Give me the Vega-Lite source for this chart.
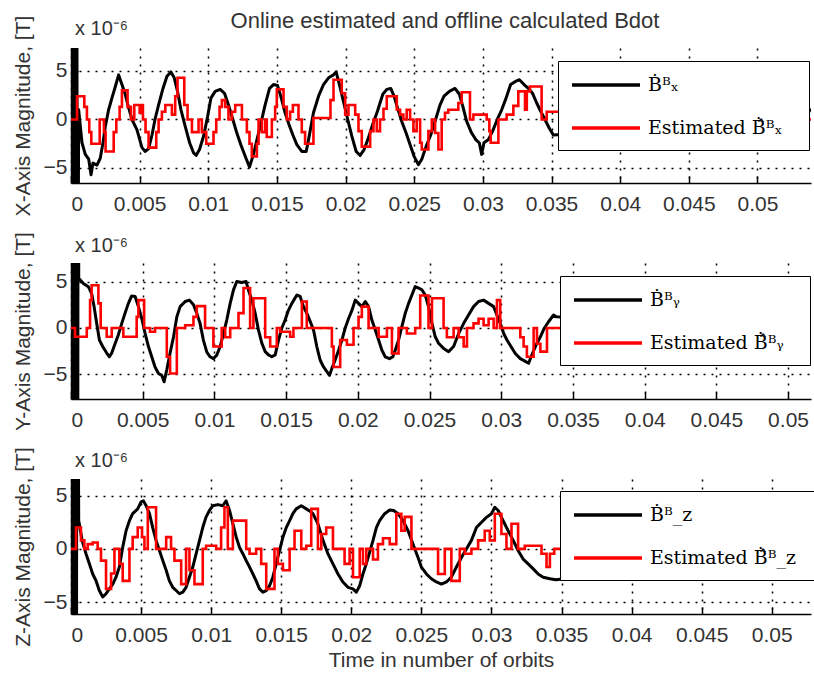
{
  "$schema": "https://vega.github.io/schema/vega-lite/v6.json",
  "background": "white",
  "padding": {"left": 12, "top": 10, "right": 0, "bottom": 0},
  "bounds": "flush",
  "spacing": 80,
  "title": {"text": "Online estimated and offline calculated Bdot", "frame": "group", "anchor": "middle", "offset": -18, "fontSize": 22, "font": "Liberation Sans", "fontWeight": "normal", "color": "#333"},
  "config": {
    "view": {"stroke": null},
    "font": "Liberation Sans",
    "axis": {
      "domainColor": "black", "domainWidth": 1.5,
      "tickColor": "black", "tickSize": -7, "tickWidth": 1.5,
      "labelFont": "Liberation Sans", "labelFontSize": 21, "labelColor": "#333",
      "titleFont": "Liberation Sans", "titleFontSize": 21, "titleFontWeight": "normal", "titleColor": "#333",
      "grid": true, "gridColor": "black", "gridDash": [2, 6], "gridWidth": 1.5, "gridOpacity": 1
    },
    "axisX": {"labelPadding": 17},
    "axisY": {"labelPadding": 11, "titlePadding": 10},
    "legend": {
      "orient": "none", "title": null, "symbolType": "M-1,0H5.8", "symbolSize": 400, "symbolStrokeWidth": 3.5,
      "labelFont": "DejaVu Serif", "labelFontSize": 19, "labelColor": "black", "labelOffset": 54, "labelLimit": 0,
      "padding": 12, "rowPadding": 21, "strokeColor": "black", "fillColor": "white", "cornerRadius": 0
    },
    "title": {"anchor": "start", "frame": "group", "offset": -24, "dx": 4, "fontSize": 20, "font": "Liberation Sans", "fontWeight": "normal", "color": "#333"}
  },
  "resolve": {"scale": {"color": "independent", "x": "independent", "y": "independent"}, "legend": {"color": "independent"}},
  "datasets": {
    "bx": [
      {"series": "offline", "orbits": 0, "uT": 0}, {"series": "offline", "orbits": 0.00002, "uT": 40}, {"series": "offline", "orbits": 0.00006, "uT": -40}, {"series": "offline", "orbits": 0.0001, "uT": 40}, {"series": "offline", "orbits": 0.00014, "uT": -40}, {"series": "offline", "orbits": 0.00018, "uT": 40}, {"series": "offline", "orbits": 0.00022, "uT": -40}, {"series": "offline", "orbits": 0.00026, "uT": 40}, {"series": "offline", "orbits": 0.0003, "uT": -40}, {"series": "offline", "orbits": 0.00034, "uT": 40}, {"series": "offline", "orbits": 0.00038, "uT": -40}, {"series": "offline", "orbits": 0.00042, "uT": 40}, {"series": "offline", "orbits": 0.00046, "uT": -40},
      {"series": "offline", "orbits": 0.00056, "uT": 1.0}, {"series": "offline", "orbits": 0.0008, "uT": -2.4}, {"series": "offline", "orbits": 0.00104, "uT": -3.6}, {"series": "offline", "orbits": 0.00129, "uT": -4.1}, {"series": "offline", "orbits": 0.00146, "uT": -5.7}, {"series": "offline", "orbits": 0.0016, "uT": -4.5}, {"series": "offline", "orbits": 0.00189, "uT": -4.7}, {"series": "offline", "orbits": 0.00213, "uT": -4.0}, {"series": "offline", "orbits": 0.00233, "uT": -2.4}, {"series": "offline", "orbits": 0.0025, "uT": -0.7}, {"series": "offline", "orbits": 0.00274, "uT": 1.0}, {"series": "offline", "orbits": 0.00298, "uT": 2.2}, {"series": "offline", "orbits": 0.00323, "uT": 3.4}, {"series": "offline", "orbits": 0.00347, "uT": 4.6}, {"series": "offline", "orbits": 0.00371, "uT": 3.6}, {"series": "offline", "orbits": 0.00395, "uT": 2.6}, {"series": "offline", "orbits": 0.0042, "uT": 1.2}, {"series": "offline", "orbits": 0.00444, "uT": 0.0}, {"series": "offline", "orbits": 0.0048, "uT": -1.05}, {"series": "offline", "orbits": 0.00517, "uT": -2.9}, {"series": "offline", "orbits": 0.00541, "uT": -3.3}, {"series": "offline", "orbits": 0.00565, "uT": -3.0}, {"series": "offline", "orbits": 0.0059, "uT": -1.6}, {"series": "offline", "orbits": 0.00614, "uT": 0.15}, {"series": "offline", "orbits": 0.00638, "uT": 1.5}, {"series": "offline", "orbits": 0.0067, "uT": 3.2}, {"series": "offline", "orbits": 0.00699, "uT": 4.45}, {"series": "offline", "orbits": 0.00728, "uT": 4.9}, {"series": "offline", "orbits": 0.00752, "uT": 4.3}, {"series": "offline", "orbits": 0.00776, "uT": 2.9}, {"series": "offline", "orbits": 0.00801, "uT": 1.0}, {"series": "offline", "orbits": 0.00832, "uT": -0.7}, {"series": "offline", "orbits": 0.00864, "uT": -2.4}, {"series": "offline", "orbits": 0.00893, "uT": -3.45}, {"series": "offline", "orbits": 0.00912, "uT": -3.7}, {"series": "offline", "orbits": 0.00936, "uT": -3.1}, {"series": "offline", "orbits": 0.00966, "uT": -1.7}, {"series": "offline", "orbits": 0.00995, "uT": 0.3}, {"series": "offline", "orbits": 0.01019, "uT": 2.2}, {"series": "offline", "orbits": 0.0105, "uT": 2.9}, {"series": "offline", "orbits": 0.01087, "uT": 3.1}, {"series": "offline", "orbits": 0.01118, "uT": 2.7}, {"series": "offline", "orbits": 0.01147, "uT": 1.5}, {"series": "offline", "orbits": 0.01179, "uT": 0.0}, {"series": "offline", "orbits": 0.01208, "uT": -1.4}, {"series": "offline", "orbits": 0.01237, "uT": -2.6}, {"series": "offline", "orbits": 0.01269, "uT": -3.8}, {"series": "offline", "orbits": 0.013, "uT": -4.9}, {"series": "offline", "orbits": 0.01329, "uT": -3.6}, {"series": "offline", "orbits": 0.01354, "uT": -2.1}, {"series": "offline", "orbits": 0.01383, "uT": -0.4}, {"series": "offline", "orbits": 0.01414, "uT": 1.5}, {"series": "offline", "orbits": 0.01446, "uT": 3.2}, {"series": "offline", "orbits": 0.01475, "uT": 3.6}, {"series": "offline", "orbits": 0.01504, "uT": 3.5}, {"series": "offline", "orbits": 0.01528, "uT": 2.4}, {"series": "offline", "orbits": 0.01557, "uT": 0.8}, {"series": "offline", "orbits": 0.01587, "uT": -0.5}, {"series": "offline", "orbits": 0.01616, "uT": -1.6}, {"series": "offline", "orbits": 0.01645, "uT": -2.6}, {"series": "offline", "orbits": 0.01681, "uT": -3.3}, {"series": "offline", "orbits": 0.01713, "uT": -3.3}, {"series": "offline", "orbits": 0.0173, "uT": -2.1}, {"series": "offline", "orbits": 0.01766, "uT": 0.7}, {"series": "offline", "orbits": 0.01803, "uT": 2.4}, {"series": "offline", "orbits": 0.01839, "uT": 3.6}, {"series": "offline", "orbits": 0.01876, "uT": 4.3}, {"series": "offline", "orbits": 0.01912, "uT": 4.6}, {"series": "offline", "orbits": 0.01931, "uT": 4.9}, {"series": "offline", "orbits": 0.01955, "uT": 3.6}, {"series": "offline", "orbits": 0.01984, "uT": 1.9}, {"series": "offline", "orbits": 0.02013, "uT": 0.15}, {"series": "offline", "orbits": 0.02045, "uT": -1.7}, {"series": "offline", "orbits": 0.02077, "uT": -3.3}, {"series": "offline", "orbits": 0.02106, "uT": -3.7}, {"series": "offline", "orbits": 0.02135, "uT": -3.1}, {"series": "offline", "orbits": 0.02166, "uT": -1.9}, {"series": "offline", "orbits": 0.02198, "uT": -0.5}, {"series": "offline", "orbits": 0.02232, "uT": 0.85}, {"series": "offline", "orbits": 0.02271, "uT": 2.6}, {"series": "offline", "orbits": 0.023, "uT": 3.1}, {"series": "offline", "orbits": 0.02329, "uT": 3.2}, {"series": "offline", "orbits": 0.02353, "uT": 2.4}, {"series": "offline", "orbits": 0.02378, "uT": 1.2}, {"series": "offline", "orbits": 0.02409, "uT": -0.2}, {"series": "offline", "orbits": 0.02441, "uT": -1.4}, {"series": "offline", "orbits": 0.0247, "uT": -2.6}, {"series": "offline", "orbits": 0.02499, "uT": -3.8}, {"series": "offline", "orbits": 0.0253, "uT": -4.65}, {"series": "offline", "orbits": 0.02555, "uT": -4.1}, {"series": "offline", "orbits": 0.02586, "uT": -2.8}, {"series": "offline", "orbits": 0.0262, "uT": -1.6}, {"series": "offline", "orbits": 0.02659, "uT": 0.15}, {"series": "offline", "orbits": 0.02688, "uT": 1.5}, {"series": "offline", "orbits": 0.02717, "uT": 2.4}, {"series": "offline", "orbits": 0.02756, "uT": 2.9}, {"series": "offline", "orbits": 0.02797, "uT": 3.2}, {"series": "offline", "orbits": 0.02829, "uT": 2.6}, {"series": "offline", "orbits": 0.02853, "uT": 1.4}, {"series": "offline", "orbits": 0.02882, "uT": -0.2}, {"series": "offline", "orbits": 0.02918, "uT": -1.4}, {"series": "offline", "orbits": 0.0295, "uT": -2.1}, {"series": "offline", "orbits": 0.02974, "uT": -2.4}, {"series": "offline", "orbits": 0.02991, "uT": -3.6}, {"series": "offline", "orbits": 0.03008, "uT": -2.4}, {"series": "offline", "orbits": 0.03039, "uT": -2.1}, {"series": "offline", "orbits": 0.03071, "uT": -1.2}, {"series": "offline", "orbits": 0.03105, "uT": 0.0}, {"series": "offline", "orbits": 0.03137, "uT": 1.0}, {"series": "offline", "orbits": 0.03169, "uT": 2.2}, {"series": "offline", "orbits": 0.03202, "uT": 3.6}, {"series": "offline", "orbits": 0.03234, "uT": 3.9}, {"series": "offline", "orbits": 0.03266, "uT": 4.1}, {"series": "offline", "orbits": 0.033, "uT": 3.6}, {"series": "offline", "orbits": 0.03331, "uT": 3.2}, {"series": "offline", "orbits": 0.03362, "uT": 2.7}, {"series": "offline", "orbits": 0.03392, "uT": 1.7}, {"series": "offline", "orbits": 0.03421, "uT": 0.85}, {"series": "offline", "orbits": 0.03452, "uT": 0.0}, {"series": "offline", "orbits": 0.03484, "uT": -0.9}, {"series": "offline", "orbits": 0.03513, "uT": -1.6}, {"series": "offline", "orbits": 0.0533, "uT": 0.0}, {"series": "offline", "orbits": 0.0539, "uT": 1.1},
      {"series": "estimated", "orbits": 0, "uT": 0}, {"series": "estimated", "orbits": 0.00044, "uT": 2.4}, {"series": "estimated", "orbits": 0.00097, "uT": 1.3}, {"series": "estimated", "orbits": 0.00116, "uT": 0}, {"series": "estimated", "orbits": 0.00133, "uT": -1.3}, {"series": "estimated", "orbits": 0.00148, "uT": -2.5}, {"series": "estimated", "orbits": 0.00209, "uT": 0}, {"series": "estimated", "orbits": 0.0024, "uT": -1.3}, {"series": "estimated", "orbits": 0.00252, "uT": -3.3}, {"series": "estimated", "orbits": 0.00311, "uT": -1.3}, {"series": "estimated", "orbits": 0.0033, "uT": 0}, {"series": "estimated", "orbits": 0.00354, "uT": 1.3}, {"series": "estimated", "orbits": 0.00371, "uT": 3.0}, {"series": "estimated", "orbits": 0.00412, "uT": 1.3}, {"series": "estimated", "orbits": 0.00437, "uT": 0}, {"series": "estimated", "orbits": 0.00461, "uT": 1.5}, {"series": "estimated", "orbits": 0.005, "uT": 0.7}, {"series": "estimated", "orbits": 0.00512, "uT": 1.5}, {"series": "estimated", "orbits": 0.00524, "uT": 0}, {"series": "estimated", "orbits": 0.00543, "uT": -1.3}, {"series": "estimated", "orbits": 0.00565, "uT": -2.9}, {"series": "estimated", "orbits": 0.00621, "uT": -1.3}, {"series": "estimated", "orbits": 0.00638, "uT": 0}, {"series": "estimated", "orbits": 0.00662, "uT": 0.8}, {"series": "estimated", "orbits": 0.00687, "uT": 1.5}, {"series": "estimated", "orbits": 0.00735, "uT": 0.5}, {"series": "estimated", "orbits": 0.00759, "uT": 2.4}, {"series": "estimated", "orbits": 0.00776, "uT": 4.3}, {"series": "estimated", "orbits": 0.00825, "uT": 1.5}, {"series": "estimated", "orbits": 0.00849, "uT": 0}, {"series": "estimated", "orbits": 0.00881, "uT": -1.3}, {"series": "estimated", "orbits": 0.00929, "uT": 0}, {"series": "estimated", "orbits": 0.00953, "uT": -1.3}, {"series": "estimated", "orbits": 0.00985, "uT": -2.5}, {"series": "estimated", "orbits": 0.01038, "uT": -1.3}, {"series": "estimated", "orbits": 0.01058, "uT": 0}, {"series": "estimated", "orbits": 0.01082, "uT": 1.3}, {"series": "estimated", "orbits": 0.01099, "uT": 2.0}, {"series": "estimated", "orbits": 0.01123, "uT": 1.3}, {"series": "estimated", "orbits": 0.01147, "uT": 0}, {"series": "estimated", "orbits": 0.01172, "uT": 0.8}, {"series": "estimated", "orbits": 0.01196, "uT": 1.5}, {"series": "estimated", "orbits": 0.01245, "uT": 0}, {"series": "estimated", "orbits": 0.01281, "uT": -1.3}, {"series": "estimated", "orbits": 0.013, "uT": -2.5}, {"series": "estimated", "orbits": 0.01317, "uT": -3.8}, {"series": "estimated", "orbits": 0.01354, "uT": -2.5}, {"series": "estimated", "orbits": 0.01366, "uT": 0}, {"series": "estimated", "orbits": 0.0139, "uT": -1.3}, {"series": "estimated", "orbits": 0.01414, "uT": 0}, {"series": "estimated", "orbits": 0.01426, "uT": -1.8}, {"series": "estimated", "orbits": 0.01463, "uT": 0}, {"series": "estimated", "orbits": 0.01487, "uT": 1.3}, {"series": "estimated", "orbits": 0.01499, "uT": 3.1}, {"series": "estimated", "orbits": 0.01548, "uT": 1.3}, {"series": "estimated", "orbits": 0.01572, "uT": 0}, {"series": "estimated", "orbits": 0.01596, "uT": 0.8}, {"series": "estimated", "orbits": 0.01616, "uT": 1.5}, {"series": "estimated", "orbits": 0.01657, "uT": 0}, {"series": "estimated", "orbits": 0.01681, "uT": -1.3}, {"series": "estimated", "orbits": 0.01705, "uT": -2.5}, {"series": "estimated", "orbits": 0.01766, "uT": 0.15}, {"series": "estimated", "orbits": 0.0189, "uT": 2.0}, {"series": "estimated", "orbits": 0.01912, "uT": 4.1}, {"series": "estimated", "orbits": 0.01972, "uT": 2.7}, {"series": "estimated", "orbits": 0.01997, "uT": 0.5}, {"series": "estimated", "orbits": 0.02021, "uT": 1.5}, {"series": "estimated", "orbits": 0.0207, "uT": 0.5}, {"series": "estimated", "orbits": 0.02094, "uT": -1.2}, {"series": "estimated", "orbits": 0.02118, "uT": -2.8}, {"series": "estimated", "orbits": 0.02179, "uT": -1.2}, {"series": "estimated", "orbits": 0.02203, "uT": 0}, {"series": "estimated", "orbits": 0.02227, "uT": -1.2}, {"series": "estimated", "orbits": 0.02251, "uT": 0}, {"series": "estimated", "orbits": 0.02276, "uT": 1.1}, {"series": "estimated", "orbits": 0.023, "uT": 2.4}, {"series": "estimated", "orbits": 0.02373, "uT": 1.0}, {"series": "estimated", "orbits": 0.02397, "uT": 0.5}, {"series": "estimated", "orbits": 0.02421, "uT": 0}, {"series": "estimated", "orbits": 0.02445, "uT": 1.0}, {"series": "estimated", "orbits": 0.0247, "uT": 0}, {"series": "estimated", "orbits": 0.02494, "uT": -1.2}, {"series": "estimated", "orbits": 0.02518, "uT": 0}, {"series": "estimated", "orbits": 0.02543, "uT": -2.4}, {"series": "estimated", "orbits": 0.02555, "uT": -3.1}, {"series": "estimated", "orbits": 0.02603, "uT": -1.2}, {"series": "estimated", "orbits": 0.02628, "uT": 0}, {"series": "estimated", "orbits": 0.02652, "uT": -1.4}, {"series": "estimated", "orbits": 0.02676, "uT": -3.1}, {"series": "estimated", "orbits": 0.027, "uT": 0}, {"series": "estimated", "orbits": 0.02724, "uT": 0.7}, {"series": "estimated", "orbits": 0.02748, "uT": 1.0}, {"series": "estimated", "orbits": 0.02821, "uT": 1.7}, {"series": "estimated", "orbits": 0.02846, "uT": 2.8}, {"series": "estimated", "orbits": 0.02906, "uT": 0}, {"series": "estimated", "orbits": 0.02931, "uT": 0.5}, {"series": "estimated", "orbits": 0.03028, "uT": 0}, {"series": "estimated", "orbits": 0.03047, "uT": -1.2}, {"series": "estimated", "orbits": 0.03057, "uT": -2.4}, {"series": "estimated", "orbits": 0.03113, "uT": 0}, {"series": "estimated", "orbits": 0.03173, "uT": 0.5}, {"series": "estimated", "orbits": 0.03222, "uT": 1.4}, {"series": "estimated", "orbits": 0.03258, "uT": 2.9}, {"series": "estimated", "orbits": 0.03307, "uT": 1.0}, {"series": "estimated", "orbits": 0.0332, "uT": 2.9}, {"series": "estimated", "orbits": 0.03343, "uT": 3.4}, {"series": "estimated", "orbits": 0.03428, "uT": 0}, {"series": "estimated", "orbits": 0.03465, "uT": 0.8}, {"series": "estimated", "orbits": 0.0352, "uT": 0.8}, {"series": "estimated", "orbits": 0.0533, "uT": 0}, {"series": "estimated", "orbits": 0.0539, "uT": 0}
    ],
    "by": [
      {"series": "offline", "orbits": 0, "uT": 0}, {"series": "offline", "orbits": 0.00002, "uT": 40}, {"series": "offline", "orbits": 0.00006, "uT": -40}, {"series": "offline", "orbits": 0.0001, "uT": 40}, {"series": "offline", "orbits": 0.00014, "uT": -40}, {"series": "offline", "orbits": 0.00018, "uT": 40}, {"series": "offline", "orbits": 0.00022, "uT": -40}, {"series": "offline", "orbits": 0.00026, "uT": 40}, {"series": "offline", "orbits": 0.0003, "uT": -40}, {"series": "offline", "orbits": 0.00034, "uT": 40}, {"series": "offline", "orbits": 0.00038, "uT": -40}, {"series": "offline", "orbits": 0.00042, "uT": 40}, {"series": "offline", "orbits": 0.00046, "uT": -40}, {"series": "offline", "orbits": 0.0005, "uT": 40},
      {"series": "offline", "orbits": 0.00054, "uT": 5.35}, {"series": "offline", "orbits": 0.00086, "uT": 4.8}, {"series": "offline", "orbits": 0.00121, "uT": 4.45}, {"series": "offline", "orbits": 0.00144, "uT": 3.7}, {"series": "offline", "orbits": 0.00161, "uT": 2.3}, {"series": "offline", "orbits": 0.00179, "uT": 0.5}, {"series": "offline", "orbits": 0.00198, "uT": -1.3}, {"series": "offline", "orbits": 0.00221, "uT": -2.0}, {"series": "offline", "orbits": 0.00249, "uT": -2.7}, {"series": "offline", "orbits": 0.00268, "uT": -3.1}, {"series": "offline", "orbits": 0.00284, "uT": -2.7}, {"series": "offline", "orbits": 0.00307, "uT": -1.7}, {"series": "offline", "orbits": 0.0033, "uT": -0.75}, {"series": "offline", "orbits": 0.00354, "uT": 0.5}, {"series": "offline", "orbits": 0.00377, "uT": 1.6}, {"series": "offline", "orbits": 0.004, "uT": 2.65}, {"series": "offline", "orbits": 0.00423, "uT": 3.45}, {"series": "offline", "orbits": 0.00447, "uT": 3.4}, {"series": "offline", "orbits": 0.0047, "uT": 2.3}, {"series": "offline", "orbits": 0.00493, "uT": 1.05}, {"series": "offline", "orbits": 0.00517, "uT": -0.6}, {"series": "offline", "orbits": 0.0054, "uT": -2.0}, {"series": "offline", "orbits": 0.00563, "uT": -3.1}, {"series": "offline", "orbits": 0.00586, "uT": -4.2}, {"series": "offline", "orbits": 0.0061, "uT": -4.9}, {"series": "offline", "orbits": 0.00633, "uT": -5.1}, {"series": "offline", "orbits": 0.00649, "uT": -5.8}, {"series": "offline", "orbits": 0.00668, "uT": -4.5}, {"series": "offline", "orbits": 0.00691, "uT": -2.7}, {"series": "offline", "orbits": 0.00715, "uT": -0.95}, {"series": "offline", "orbits": 0.00738, "uT": 1.2}, {"series": "offline", "orbits": 0.00761, "uT": 2.3}, {"series": "offline", "orbits": 0.00796, "uT": 2.85}, {"series": "offline", "orbits": 0.00826, "uT": 3.0}, {"series": "offline", "orbits": 0.00854, "uT": 2.5}, {"series": "offline", "orbits": 0.00877, "uT": 1.6}, {"series": "offline", "orbits": 0.009, "uT": 0.5}, {"series": "offline", "orbits": 0.00923, "uT": -1.3}, {"series": "offline", "orbits": 0.00947, "uT": -2.6}, {"series": "offline", "orbits": 0.0097, "uT": -3.1}, {"series": "offline", "orbits": 0.00993, "uT": -3.3}, {"series": "offline", "orbits": 0.01017, "uT": -2.9}, {"series": "offline", "orbits": 0.0104, "uT": -2.0}, {"series": "offline", "orbits": 0.01063, "uT": -0.6}, {"series": "offline", "orbits": 0.01086, "uT": 0.85}, {"series": "offline", "orbits": 0.0111, "uT": 2.65}, {"series": "offline", "orbits": 0.01133, "uT": 4.1}, {"series": "offline", "orbits": 0.01156, "uT": 5.0}, {"series": "offline", "orbits": 0.01191, "uT": 4.9}, {"series": "offline", "orbits": 0.01221, "uT": 5.0}, {"series": "offline", "orbits": 0.01237, "uT": 4.1}, {"series": "offline", "orbits": 0.01261, "uT": 3.0}, {"series": "offline", "orbits": 0.01284, "uT": 1.6}, {"series": "offline", "orbits": 0.01307, "uT": -0.2}, {"series": "offline", "orbits": 0.01331, "uT": -1.65}, {"series": "offline", "orbits": 0.01354, "uT": -2.55}, {"series": "offline", "orbits": 0.01377, "uT": -2.9}, {"series": "offline", "orbits": 0.014, "uT": -3.1}, {"series": "offline", "orbits": 0.01424, "uT": -2.9}, {"series": "offline", "orbits": 0.01447, "uT": -1.3}, {"series": "offline", "orbits": 0.0147, "uT": 0.0}, {"series": "offline", "orbits": 0.01493, "uT": 0.85}, {"series": "offline", "orbits": 0.01516, "uT": 1.9}, {"series": "offline", "orbits": 0.0154, "uT": 2.65}, {"series": "offline", "orbits": 0.01575, "uT": 3.55}, {"series": "offline", "orbits": 0.01598, "uT": 3.4}, {"series": "offline", "orbits": 0.01621, "uT": 2.3}, {"series": "offline", "orbits": 0.0165, "uT": 1.4}, {"series": "offline", "orbits": 0.01691, "uT": -0.2}, {"series": "offline", "orbits": 0.01714, "uT": -2.0}, {"series": "offline", "orbits": 0.01737, "uT": -3.45}, {"series": "offline", "orbits": 0.01761, "uT": -4.2}, {"series": "offline", "orbits": 0.01784, "uT": -4.7}, {"series": "offline", "orbits": 0.01803, "uT": -5.1}, {"series": "offline", "orbits": 0.01819, "uT": -4.35}, {"series": "offline", "orbits": 0.01842, "uT": -3.45}, {"series": "offline", "orbits": 0.01866, "uT": -2.4}, {"series": "offline", "orbits": 0.01889, "uT": -1.3}, {"series": "offline", "orbits": 0.01912, "uT": 0.0}, {"series": "offline", "orbits": 0.01935, "uT": 1.0}, {"series": "offline", "orbits": 0.01959, "uT": 1.9}, {"series": "offline", "orbits": 0.01982, "uT": 3.0}, {"series": "offline", "orbits": 0.02005, "uT": 2.65}, {"series": "offline", "orbits": 0.02028, "uT": 2.3}, {"series": "offline", "orbits": 0.02052, "uT": 2.85}, {"series": "offline", "orbits": 0.02075, "uT": 2.3}, {"series": "offline", "orbits": 0.02098, "uT": 0.85}, {"series": "offline", "orbits": 0.02121, "uT": -0.2}, {"series": "offline", "orbits": 0.02145, "uT": -1.3}, {"series": "offline", "orbits": 0.02168, "uT": -2.4}, {"series": "offline", "orbits": 0.02191, "uT": -3.1}, {"series": "offline", "orbits": 0.02221, "uT": -3.3}, {"series": "offline", "orbits": 0.02244, "uT": -3.1}, {"series": "offline", "orbits": 0.02261, "uT": -2.4}, {"series": "offline", "orbits": 0.02284, "uT": -1.3}, {"series": "offline", "orbits": 0.02307, "uT": 0.15}, {"series": "offline", "orbits": 0.02331, "uT": 1.6}, {"series": "offline", "orbits": 0.02354, "uT": 2.65}, {"series": "offline", "orbits": 0.02377, "uT": 3.55}, {"series": "offline", "orbits": 0.024, "uT": 4.45}, {"series": "offline", "orbits": 0.02424, "uT": 4.3}, {"series": "offline", "orbits": 0.02447, "uT": 4.1}, {"series": "offline", "orbits": 0.0247, "uT": 3.55}, {"series": "offline", "orbits": 0.02493, "uT": 2.3}, {"series": "offline", "orbits": 0.02517, "uT": 0.5}, {"series": "offline", "orbits": 0.0254, "uT": -0.95}, {"series": "offline", "orbits": 0.02563, "uT": -1.65}, {"series": "offline", "orbits": 0.02598, "uT": -2.2}, {"series": "offline", "orbits": 0.02633, "uT": -2.55}, {"series": "offline", "orbits": 0.02668, "uT": -2.0}, {"series": "offline", "orbits": 0.02703, "uT": -0.6}, {"series": "offline", "orbits": 0.02738, "uT": 0.5}, {"series": "offline", "orbits": 0.02772, "uT": 1.4}, {"series": "offline", "orbits": 0.02807, "uT": 2.3}, {"series": "offline", "orbits": 0.02842, "uT": 2.85}, {"series": "offline", "orbits": 0.02877, "uT": 3.0}, {"series": "offline", "orbits": 0.02912, "uT": 2.65}, {"series": "offline", "orbits": 0.02947, "uT": 2.3}, {"series": "offline", "orbits": 0.0297, "uT": 1.4}, {"series": "offline", "orbits": 0.02993, "uT": 0.5}, {"series": "offline", "orbits": 0.03017, "uT": -0.6}, {"series": "offline", "orbits": 0.0304, "uT": -1.3}, {"series": "offline", "orbits": 0.03068, "uT": -2.0}, {"series": "offline", "orbits": 0.03098, "uT": -2.75}, {"series": "offline", "orbits": 0.03133, "uT": -3.3}, {"series": "offline", "orbits": 0.03168, "uT": -3.6}, {"series": "offline", "orbits": 0.03191, "uT": -3.8}, {"series": "offline", "orbits": 0.03208, "uT": -3.1}, {"series": "offline", "orbits": 0.03238, "uT": -2.0}, {"series": "offline", "orbits": 0.03273, "uT": -0.95}, {"series": "offline", "orbits": 0.03301, "uT": 0.0}, {"series": "offline", "orbits": 0.03331, "uT": 0.7}, {"series": "offline", "orbits": 0.03365, "uT": 1.4}, {"series": "offline", "orbits": 0.03384, "uT": 1.2}, {"series": "offline", "orbits": 0.0512, "uT": 0.3}, {"series": "offline", "orbits": 0.0517, "uT": -2.0},
      {"series": "estimated", "orbits": 0, "uT": 0}, {"series": "estimated", "orbits": 0.00028, "uT": -0.95}, {"series": "estimated", "orbits": 0.0011, "uT": 0}, {"series": "estimated", "orbits": 0.00133, "uT": 3.0}, {"series": "estimated", "orbits": 0.00144, "uT": 4.6}, {"series": "estimated", "orbits": 0.00191, "uT": 2.65}, {"series": "estimated", "orbits": 0.00207, "uT": 0}, {"series": "estimated", "orbits": 0.00249, "uT": -0.95}, {"series": "estimated", "orbits": 0.00284, "uT": 0}, {"series": "estimated", "orbits": 0.00365, "uT": -0.95}, {"series": "estimated", "orbits": 0.00458, "uT": 1.2}, {"series": "estimated", "orbits": 0.0047, "uT": 3.0}, {"series": "estimated", "orbits": 0.0051, "uT": 0}, {"series": "estimated", "orbits": 0.00551, "uT": -0.4}, {"series": "estimated", "orbits": 0.00586, "uT": 0}, {"series": "estimated", "orbits": 0.00668, "uT": -3.1}, {"series": "estimated", "orbits": 0.00691, "uT": -4.9}, {"series": "estimated", "orbits": 0.00738, "uT": 0}, {"series": "estimated", "orbits": 0.00796, "uT": 0.3}, {"series": "estimated", "orbits": 0.00854, "uT": 1.2}, {"series": "estimated", "orbits": 0.00877, "uT": 2.35}, {"series": "estimated", "orbits": 0.00935, "uT": 0}, {"series": "estimated", "orbits": 0.00993, "uT": -2.0}, {"series": "estimated", "orbits": 0.01051, "uT": 0}, {"series": "estimated", "orbits": 0.01075, "uT": -1.0}, {"series": "estimated", "orbits": 0.0111, "uT": 0}, {"series": "estimated", "orbits": 0.01168, "uT": 1.6}, {"series": "estimated", "orbits": 0.01203, "uT": 4.3}, {"series": "estimated", "orbits": 0.01249, "uT": 0}, {"series": "estimated", "orbits": 0.01272, "uT": 3.2}, {"series": "estimated", "orbits": 0.01354, "uT": -1.0}, {"series": "estimated", "orbits": 0.01389, "uT": -2.0}, {"series": "estimated", "orbits": 0.01435, "uT": 0}, {"series": "estimated", "orbits": 0.01458, "uT": -0.4}, {"series": "estimated", "orbits": 0.01528, "uT": -0.95}, {"series": "estimated", "orbits": 0.01551, "uT": 0}, {"series": "estimated", "orbits": 0.0161, "uT": 2.85}, {"series": "estimated", "orbits": 0.01644, "uT": 0}, {"series": "estimated", "orbits": 0.01819, "uT": -2.0}, {"series": "estimated", "orbits": 0.01831, "uT": -4.2}, {"series": "estimated", "orbits": 0.01877, "uT": -1.3}, {"series": "estimated", "orbits": 0.01924, "uT": -1.8}, {"series": "estimated", "orbits": 0.0197, "uT": 0}, {"series": "estimated", "orbits": 0.02005, "uT": 1.2}, {"series": "estimated", "orbits": 0.02028, "uT": 2.3}, {"series": "estimated", "orbits": 0.02075, "uT": 0}, {"series": "estimated", "orbits": 0.02145, "uT": -0.95}, {"series": "estimated", "orbits": 0.02203, "uT": 0}, {"series": "estimated", "orbits": 0.02238, "uT": -2.75}, {"series": "estimated", "orbits": 0.02284, "uT": 0}, {"series": "estimated", "orbits": 0.02342, "uT": -0.6}, {"series": "estimated", "orbits": 0.024, "uT": 0}, {"series": "estimated", "orbits": 0.02435, "uT": 3.5}, {"series": "estimated", "orbits": 0.02493, "uT": 0}, {"series": "estimated", "orbits": 0.02517, "uT": 3.2}, {"series": "estimated", "orbits": 0.02598, "uT": 0}, {"series": "estimated", "orbits": 0.02621, "uT": -1.0}, {"series": "estimated", "orbits": 0.02668, "uT": 0}, {"series": "estimated", "orbits": 0.02703, "uT": -1.0}, {"series": "estimated", "orbits": 0.02738, "uT": -2.0}, {"series": "estimated", "orbits": 0.02761, "uT": 0}, {"series": "estimated", "orbits": 0.02807, "uT": 0.5}, {"series": "estimated", "orbits": 0.02842, "uT": 1.0}, {"series": "estimated", "orbits": 0.02877, "uT": 0.3}, {"series": "estimated", "orbits": 0.02912, "uT": 1.0}, {"series": "estimated", "orbits": 0.02947, "uT": 0}, {"series": "estimated", "orbits": 0.0297, "uT": 3.0}, {"series": "estimated", "orbits": 0.02993, "uT": 0}, {"series": "estimated", "orbits": 0.03133, "uT": -1.0}, {"series": "estimated", "orbits": 0.03156, "uT": -2.0}, {"series": "estimated", "orbits": 0.03179, "uT": -3.1}, {"series": "estimated", "orbits": 0.03226, "uT": 0}, {"series": "estimated", "orbits": 0.03249, "uT": -1.7}, {"series": "estimated", "orbits": 0.03273, "uT": -2.55}, {"series": "estimated", "orbits": 0.03319, "uT": 0}, {"series": "estimated", "orbits": 0.0339, "uT": 0}, {"series": "estimated", "orbits": 0.0508, "uT": 0}, {"series": "estimated", "orbits": 0.0513, "uT": -0.8}, {"series": "estimated", "orbits": 0.0517, "uT": -0.8}
    ],
    "bz": [
      {"series": "offline", "orbits": 0, "uT": 0}, {"series": "offline", "orbits": 0.00002, "uT": 40}, {"series": "offline", "orbits": 0.00006, "uT": -40}, {"series": "offline", "orbits": 0.0001, "uT": 40}, {"series": "offline", "orbits": 0.00014, "uT": -40}, {"series": "offline", "orbits": 0.00018, "uT": 40}, {"series": "offline", "orbits": 0.00022, "uT": -40}, {"series": "offline", "orbits": 0.00026, "uT": 40}, {"series": "offline", "orbits": 0.0003, "uT": -40}, {"series": "offline", "orbits": 0.00034, "uT": 40}, {"series": "offline", "orbits": 0.00038, "uT": -40}, {"series": "offline", "orbits": 0.00042, "uT": 40},
      {"series": "offline", "orbits": 0.00055, "uT": 2.65}, {"series": "offline", "orbits": 0.00079, "uT": 0.8}, {"series": "offline", "orbits": 0.00107, "uT": -0.45}, {"series": "offline", "orbits": 0.00131, "uT": -1.4}, {"series": "offline", "orbits": 0.00155, "uT": -2.35}, {"series": "offline", "orbits": 0.00179, "uT": -3.0}, {"series": "offline", "orbits": 0.00202, "uT": -3.9}, {"series": "offline", "orbits": 0.00226, "uT": -4.5}, {"series": "offline", "orbits": 0.0025, "uT": -4.2}, {"series": "offline", "orbits": 0.00274, "uT": -3.75}, {"series": "offline", "orbits": 0.00298, "uT": -3.3}, {"series": "offline", "orbits": 0.00321, "uT": -2.65}, {"series": "offline", "orbits": 0.00345, "uT": -1.7}, {"series": "offline", "orbits": 0.00369, "uT": 0.15}, {"series": "offline", "orbits": 0.00393, "uT": 1.7}, {"series": "offline", "orbits": 0.00417, "uT": 2.65}, {"series": "offline", "orbits": 0.0044, "uT": 3.3}, {"series": "offline", "orbits": 0.00476, "uT": 3.75}, {"series": "offline", "orbits": 0.005, "uT": 4.4}, {"series": "offline", "orbits": 0.00517, "uT": 4.5}, {"series": "offline", "orbits": 0.00536, "uT": 4.05}, {"series": "offline", "orbits": 0.0056, "uT": 3.3}, {"series": "offline", "orbits": 0.00583, "uT": 2.0}, {"series": "offline", "orbits": 0.00607, "uT": 0.8}, {"series": "offline", "orbits": 0.00631, "uT": -0.15}, {"series": "offline", "orbits": 0.00655, "uT": -1.1}, {"series": "offline", "orbits": 0.00679, "uT": -2.0}, {"series": "offline", "orbits": 0.00702, "uT": -3.0}, {"series": "offline", "orbits": 0.00726, "uT": -3.6}, {"series": "offline", "orbits": 0.0075, "uT": -3.9}, {"series": "offline", "orbits": 0.00774, "uT": -4.2}, {"series": "offline", "orbits": 0.00798, "uT": -4.05}, {"series": "offline", "orbits": 0.00821, "uT": -3.6}, {"series": "offline", "orbits": 0.00845, "uT": -2.65}, {"series": "offline", "orbits": 0.00869, "uT": -1.7}, {"series": "offline", "orbits": 0.00893, "uT": -0.45}, {"series": "offline", "orbits": 0.00917, "uT": 0.8}, {"series": "offline", "orbits": 0.0094, "uT": 2.0}, {"series": "offline", "orbits": 0.00964, "uT": 3.0}, {"series": "offline", "orbits": 0.00988, "uT": 3.6}, {"series": "offline", "orbits": 0.01012, "uT": 4.05}, {"series": "offline", "orbits": 0.01048, "uT": 4.15}, {"series": "offline", "orbits": 0.01083, "uT": 4.05}, {"series": "offline", "orbits": 0.01107, "uT": 4.5}, {"series": "offline", "orbits": 0.01131, "uT": 3.6}, {"series": "offline", "orbits": 0.01155, "uT": 2.35}, {"series": "offline", "orbits": 0.01179, "uT": 1.1}, {"series": "offline", "orbits": 0.01202, "uT": 0.15}, {"series": "offline", "orbits": 0.01226, "uT": -0.45}, {"series": "offline", "orbits": 0.0125, "uT": -1.1}, {"series": "offline", "orbits": 0.01274, "uT": -1.7}, {"series": "offline", "orbits": 0.01298, "uT": -2.35}, {"series": "offline", "orbits": 0.01321, "uT": -3.0}, {"series": "offline", "orbits": 0.01345, "uT": -3.75}, {"series": "offline", "orbits": 0.01369, "uT": -4.05}, {"series": "offline", "orbits": 0.01393, "uT": -3.9}, {"series": "offline", "orbits": 0.01417, "uT": -3.45}, {"series": "offline", "orbits": 0.0144, "uT": -2.65}, {"series": "offline", "orbits": 0.01464, "uT": -1.4}, {"series": "offline", "orbits": 0.01488, "uT": -0.15}, {"series": "offline", "orbits": 0.01512, "uT": 1.1}, {"series": "offline", "orbits": 0.01536, "uT": 2.0}, {"series": "offline", "orbits": 0.0156, "uT": 2.65}, {"series": "offline", "orbits": 0.01583, "uT": 3.3}, {"series": "offline", "orbits": 0.01607, "uT": 3.75}, {"series": "offline", "orbits": 0.01643, "uT": 4.05}, {"series": "offline", "orbits": 0.01679, "uT": 3.75}, {"series": "offline", "orbits": 0.01714, "uT": 3.45}, {"series": "offline", "orbits": 0.01726, "uT": 3.3}, {"series": "offline", "orbits": 0.01762, "uT": 2.35}, {"series": "offline", "orbits": 0.01798, "uT": 0.8}, {"series": "offline", "orbits": 0.01833, "uT": -0.45}, {"series": "offline", "orbits": 0.01869, "uT": -1.4}, {"series": "offline", "orbits": 0.01905, "uT": -2.35}, {"series": "offline", "orbits": 0.0194, "uT": -3.1}, {"series": "offline", "orbits": 0.01976, "uT": -3.6}, {"series": "offline", "orbits": 0.02012, "uT": -3.75}, {"series": "offline", "orbits": 0.02036, "uT": -4.05}, {"series": "offline", "orbits": 0.0206, "uT": -3.45}, {"series": "offline", "orbits": 0.02083, "uT": -2.35}, {"series": "offline", "orbits": 0.02107, "uT": -1.4}, {"series": "offline", "orbits": 0.02131, "uT": -0.3}, {"series": "offline", "orbits": 0.02155, "uT": 0.8}, {"series": "offline", "orbits": 0.02179, "uT": 2.0}, {"series": "offline", "orbits": 0.02202, "uT": 2.65}, {"series": "offline", "orbits": 0.02238, "uT": 3.3}, {"series": "offline", "orbits": 0.02274, "uT": 3.65}, {"series": "offline", "orbits": 0.02302, "uT": 3.6}, {"series": "offline", "orbits": 0.02333, "uT": 3.3}, {"series": "offline", "orbits": 0.02369, "uT": 2.65}, {"series": "offline", "orbits": 0.02405, "uT": 1.7}, {"series": "offline", "orbits": 0.0244, "uT": 0.45}, {"series": "offline", "orbits": 0.02476, "uT": -0.8}, {"series": "offline", "orbits": 0.025, "uT": -1.7}, {"series": "offline", "orbits": 0.02536, "uT": -2.35}, {"series": "offline", "orbits": 0.02571, "uT": -2.8}, {"series": "offline", "orbits": 0.02607, "uT": -3.1}, {"series": "offline", "orbits": 0.02643, "uT": -3.3}, {"series": "offline", "orbits": 0.02679, "uT": -3.1}, {"series": "offline", "orbits": 0.02714, "uT": -2.65}, {"series": "offline", "orbits": 0.0275, "uT": -1.7}, {"series": "offline", "orbits": 0.02786, "uT": -0.8}, {"series": "offline", "orbits": 0.02821, "uT": 0.0}, {"series": "offline", "orbits": 0.02857, "uT": 0.8}, {"series": "offline", "orbits": 0.02893, "uT": 2.0}, {"series": "offline", "orbits": 0.02929, "uT": 2.5}, {"series": "offline", "orbits": 0.02964, "uT": 2.95}, {"series": "offline", "orbits": 0.03, "uT": 3.3}, {"series": "offline", "orbits": 0.03024, "uT": 3.9}, {"series": "offline", "orbits": 0.03048, "uT": 3.6}, {"series": "offline", "orbits": 0.03083, "uT": 2.65}, {"series": "offline", "orbits": 0.03119, "uT": 1.7}, {"series": "offline", "orbits": 0.03155, "uT": 0.8}, {"series": "offline", "orbits": 0.0319, "uT": -0.15}, {"series": "offline", "orbits": 0.03226, "uT": -0.95}, {"series": "offline", "orbits": 0.03262, "uT": -1.4}, {"series": "offline", "orbits": 0.033, "uT": -1.9}, {"series": "offline", "orbits": 0.03333, "uT": -2.35}, {"series": "offline", "orbits": 0.03369, "uT": -2.65}, {"series": "offline", "orbits": 0.03417, "uT": -2.8}, {"series": "offline", "orbits": 0.0346, "uT": -2.9}, {"series": "offline", "orbits": 0.0523, "uT": -0.2}, {"series": "offline", "orbits": 0.0528, "uT": -0.8},
      {"series": "estimated", "orbits": 0, "uT": 0}, {"series": "estimated", "orbits": 0.00036, "uT": 2.0}, {"series": "estimated", "orbits": 0.00071, "uT": 0.8}, {"series": "estimated", "orbits": 0.00095, "uT": 0}, {"series": "estimated", "orbits": 0.00119, "uT": 0.45}, {"series": "estimated", "orbits": 0.00155, "uT": 0.6}, {"series": "estimated", "orbits": 0.0019, "uT": 0}, {"series": "estimated", "orbits": 0.00214, "uT": -1.1}, {"series": "estimated", "orbits": 0.0025, "uT": -3.75}, {"series": "estimated", "orbits": 0.00286, "uT": -2.3}, {"series": "estimated", "orbits": 0.0031, "uT": 0}, {"series": "estimated", "orbits": 0.00345, "uT": -1.4}, {"series": "estimated", "orbits": 0.00369, "uT": -3.0}, {"series": "estimated", "orbits": 0.00417, "uT": 0}, {"series": "estimated", "orbits": 0.0044, "uT": 1.1}, {"series": "estimated", "orbits": 0.00476, "uT": 2.0}, {"series": "estimated", "orbits": 0.00507, "uT": 1.1}, {"series": "estimated", "orbits": 0.00524, "uT": 0}, {"series": "estimated", "orbits": 0.00548, "uT": 3.9}, {"series": "estimated", "orbits": 0.00607, "uT": 0}, {"series": "estimated", "orbits": 0.00679, "uT": 1.1}, {"series": "estimated", "orbits": 0.00714, "uT": 0}, {"series": "estimated", "orbits": 0.00738, "uT": -1.1}, {"series": "estimated", "orbits": 0.00786, "uT": -3.3}, {"series": "estimated", "orbits": 0.00821, "uT": 0}, {"series": "estimated", "orbits": 0.00845, "uT": -2.0}, {"series": "estimated", "orbits": 0.00881, "uT": -3.3}, {"series": "estimated", "orbits": 0.0094, "uT": 0}, {"series": "estimated", "orbits": 0.00964, "uT": 0.3}, {"series": "estimated", "orbits": 0.01036, "uT": 0}, {"series": "estimated", "orbits": 0.01071, "uT": 2.0}, {"series": "estimated", "orbits": 0.01095, "uT": 3.9}, {"series": "estimated", "orbits": 0.01119, "uT": 0}, {"series": "estimated", "orbits": 0.01155, "uT": 2.65}, {"series": "estimated", "orbits": 0.0125, "uT": 0}, {"series": "estimated", "orbits": 0.01274, "uT": -0.45}, {"series": "estimated", "orbits": 0.01321, "uT": 0}, {"series": "estimated", "orbits": 0.01357, "uT": -1.4}, {"series": "estimated", "orbits": 0.01393, "uT": -3.75}, {"series": "estimated", "orbits": 0.01452, "uT": 0}, {"series": "estimated", "orbits": 0.01476, "uT": -1.4}, {"series": "estimated", "orbits": 0.01512, "uT": -2.0}, {"series": "estimated", "orbits": 0.0156, "uT": 0}, {"series": "estimated", "orbits": 0.01595, "uT": 1.7}, {"series": "estimated", "orbits": 0.01643, "uT": 0}, {"series": "estimated", "orbits": 0.01679, "uT": 0.3}, {"series": "estimated", "orbits": 0.01714, "uT": 3.75}, {"series": "estimated", "orbits": 0.01762, "uT": 0}, {"series": "estimated", "orbits": 0.01786, "uT": 1.4}, {"series": "estimated", "orbits": 0.01821, "uT": 2.0}, {"series": "estimated", "orbits": 0.01869, "uT": 0}, {"series": "estimated", "orbits": 0.01952, "uT": -1.4}, {"series": "estimated", "orbits": 0.01988, "uT": 0}, {"series": "estimated", "orbits": 0.02012, "uT": -2.65}, {"series": "estimated", "orbits": 0.0206, "uT": 0}, {"series": "estimated", "orbits": 0.02083, "uT": -1.4}, {"series": "estimated", "orbits": 0.02107, "uT": 0}, {"series": "estimated", "orbits": 0.02155, "uT": -1.0}, {"series": "estimated", "orbits": 0.0219, "uT": 0.45}, {"series": "estimated", "orbits": 0.02226, "uT": 1.0}, {"series": "estimated", "orbits": 0.02274, "uT": 0.45}, {"series": "estimated", "orbits": 0.02321, "uT": 3.3}, {"series": "estimated", "orbits": 0.02357, "uT": 1.7}, {"series": "estimated", "orbits": 0.02381, "uT": 3.0}, {"series": "estimated", "orbits": 0.02429, "uT": 0}, {"series": "estimated", "orbits": 0.02619, "uT": -2.35}, {"series": "estimated", "orbits": 0.02667, "uT": 0}, {"series": "estimated", "orbits": 0.02714, "uT": -3.0}, {"series": "estimated", "orbits": 0.02774, "uT": 0}, {"series": "estimated", "orbits": 0.0281, "uT": -0.45}, {"series": "estimated", "orbits": 0.02857, "uT": 0}, {"series": "estimated", "orbits": 0.02905, "uT": 0.8}, {"series": "estimated", "orbits": 0.02952, "uT": 1.7}, {"series": "estimated", "orbits": 0.02988, "uT": 0.8}, {"series": "estimated", "orbits": 0.03024, "uT": 3.3}, {"series": "estimated", "orbits": 0.03071, "uT": 1.4}, {"series": "estimated", "orbits": 0.03107, "uT": 0}, {"series": "estimated", "orbits": 0.03143, "uT": 2.35}, {"series": "estimated", "orbits": 0.0319, "uT": 0}, {"series": "estimated", "orbits": 0.03238, "uT": 0.3}, {"series": "estimated", "orbits": 0.03357, "uT": -0.45}, {"series": "estimated", "orbits": 0.03393, "uT": -1.7}, {"series": "estimated", "orbits": 0.03417, "uT": -0.45}, {"series": "estimated", "orbits": 0.03448, "uT": 0}, {"series": "estimated", "orbits": 0.0521, "uT": 0.5}, {"series": "estimated", "orbits": 0.0528, "uT": 0.5}
    ]
  },
  "vconcat": [
    {
      "width": 740, "height": 135,
      "title": {"text": "x 10⁻⁶"},
      "data": {"name": "bx"},
      "encoding": {
        "x": {"field": "orbits", "type": "quantitative", "scale": {"domain": [0, 0.0539], "nice": false, "zero": false}, "axis": {"values": [0, 0.005, 0.01, 0.015, 0.02, 0.025, 0.03, 0.035, 0.04, 0.045, 0.05], "format": "~g", "title": null}},
        "y": {"field": "uT", "type": "quantitative", "scale": {"domain": [-6.55, 7.37], "nice": false, "zero": false}, "axis": {"values": [-5, 0, 5], "title": "X-Axis Magnitude, [T]"}},
        "color": {"field": "series", "type": "nominal", "scale": {"domain": ["offline", "estimated"], "range": ["black", "red"]}, "legend": {"legendX": 487, "legendY": 13, "labelExpr": "datum.label == 'offline' ? 'Ḃᴮₓ' : 'Estimated Ḃ̂ᴮₓ\u2800'"}}
      },
      "layer": [
        {"transform": [{"filter": "datum.series == 'offline'"}], "mark": {"type": "line", "strokeWidth": 3, "strokeJoin": "round", "clip": true}},
        {"transform": [{"filter": "datum.series == 'estimated'"}], "mark": {"type": "line", "interpolate": "step-after", "strokeWidth": 2.6, "clip": true}}
      ]
    },
    {
      "width": 740, "height": 136,
      "title": {"text": "x 10⁻⁶"},
      "data": {"name": "by"},
      "encoding": {
        "x": {"field": "orbits", "type": "quantitative", "scale": {"domain": [0, 0.0516], "nice": false, "zero": false}, "axis": {"values": [0, 0.005, 0.01, 0.015, 0.02, 0.025, 0.03, 0.035, 0.04, 0.045, 0.05], "format": "~g", "title": null}},
        "y": {"field": "uT", "type": "quantitative", "scale": {"domain": [-7.65, 7.0], "nice": false, "zero": false}, "axis": {"values": [-5, 0, 5], "title": "Y-Axis Magnitude, [T]"}},
        "color": {"field": "series", "type": "nominal", "scale": {"domain": ["offline", "estimated"], "range": ["black", "red"]}, "legend": {"legendX": 489, "legendY": 13, "labelExpr": "datum.label == 'offline' ? 'Ḃᴮᵧ' : 'Estimated Ḃ̂ᴮᵧ\u2800'"}}
      },
      "layer": [
        {"transform": [{"filter": "datum.series == 'offline'"}], "mark": {"type": "line", "strokeWidth": 3, "strokeJoin": "round", "clip": true}},
        {"transform": [{"filter": "datum.series == 'estimated'"}], "mark": {"type": "line", "interpolate": "step-after", "strokeWidth": 2.6, "clip": true}}
      ]
    },
    {
      "width": 740, "height": 135,
      "title": {"text": "x 10⁻⁶"},
      "data": {"name": "bz"},
      "encoding": {
        "x": {"field": "orbits", "type": "quantitative", "scale": {"domain": [0, 0.0528], "nice": false, "zero": false}, "axis": {"values": [0, 0.005, 0.01, 0.015, 0.02, 0.025, 0.03, 0.035, 0.04, 0.045, 0.05], "format": "~g", "title": "Time in number of orbits", "titleFontSize": 21, "titlePadding": 4}},
        "y": {"field": "uT", "type": "quantitative", "scale": {"domain": [-6.1, 6.55], "nice": false, "zero": false}, "axis": {"values": [-5, 0, 5], "title": "Z-Axis Magnitude, [T]"}},
        "color": {"field": "series", "type": "nominal", "scale": {"domain": ["offline", "estimated"], "range": ["black", "red"]}, "legend": {"legendX": 489, "legendY": 12, "labelExpr": "datum.label == 'offline' ? 'Ḃᴮ_z' : 'Estimated Ḃ̂ᴮ_z\u2800'"}}
      },
      "layer": [
        {"transform": [{"filter": "datum.series == 'offline'"}], "mark": {"type": "line", "strokeWidth": 3, "strokeJoin": "round", "clip": true}},
        {"transform": [{"filter": "datum.series == 'estimated'"}], "mark": {"type": "line", "interpolate": "step-after", "strokeWidth": 2.6, "clip": true}}
      ]
    }
  ]
}
